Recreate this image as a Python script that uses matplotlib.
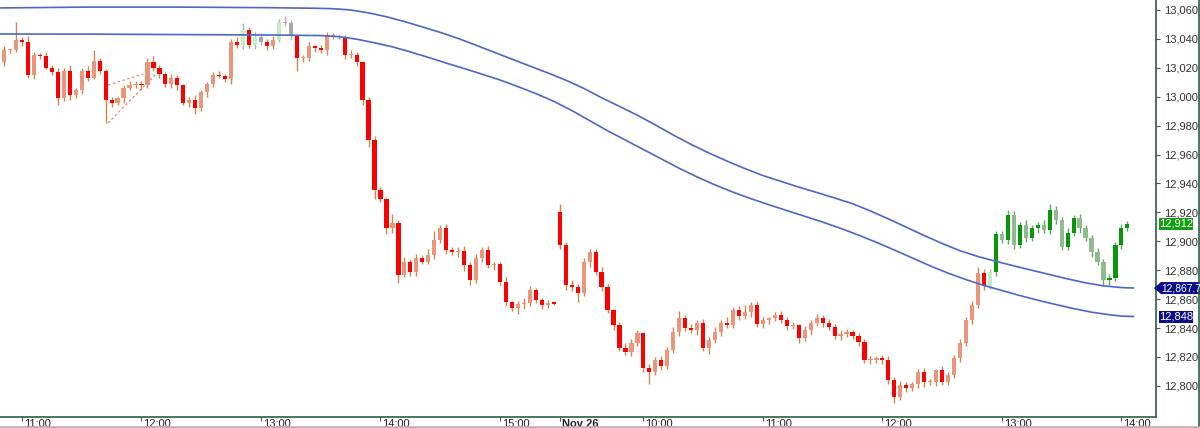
import matplotlib.pyplot as plt
from matplotlib.patches import Polygon, Rectangle

plt.rcParams['font.family'] = ['Liberation Sans', 'DejaVu Sans']

# 3-minute bars, closing prices (day 1 from 10:48, day 2 from bar 94)
closes = [
    13024, 13032, 13032, 13039, 13038, 13015, 13029, 13028, 13020, 13017,
    12999, 13018, 13001, 13005, 13018, 13013, 13025, 13018, 12998, 12996,
    12999, 13006, 13008, 13009, 13008, 13024, 13020, 13016, 13009, 13013,
    13008, 12996, 12998, 12992, 13003, 13009, 13015, 13014, 13012, 13038,
    13036, 13046, 13036, 13041, 13038, 13035, 13039, 13052, 13051, 13042,
    13027, 13027, 13035, 13034, 13032, 13042, 13042, 13041, 13029, 13029,
    13024, 12998, 12970, 12935.5, 12929, 12909, 12913, 12877, 12886, 12879,
    12888.5, 12886, 12890.5, 12901, 12909, 12894, 12892.5, 12893, 12883.5, 12873,
    12888.5, 12894, 12883.5, 12884, 12872, 12858, 12854, 12856.5, 12857.5, 12866,
    12859.5, 12856, 12857.5, 12857, 12897.5, 12870, 12868.5, 12864, 12885.5, 12892.5,
    12879, 12868.5, 12852.5, 12842, 12826, 12823.5, 12829.5, 12836.5, 12812.5, 12809.5,
    12818, 12814, 12825, 12837.5, 12847, 12840, 12838.5, 12843.5, 12826, 12832,
    12837.5, 12843.5, 12842, 12852.5, 12848.5, 12851, 12856, 12843, 12845.5, 12847,
    12849, 12845.5, 12841.5, 12842, 12833, 12838.5, 12843.5, 12847, 12843.5, 12841,
    12834.5, 12836, 12837.5, 12834.5, 12830.5, 12818, 12818, 12819.5, 12818, 12804,
    12792.5, 12800.5, 12798.5, 12801.5, 12809.5, 12802.5, 12803, 12811, 12802.5, 12807.5,
    12819.5, 12829.5, 12845.5, 12856, 12878, 12869, 12879, 12905, 12901, 12918,
    12897.5, 12911.5, 12902.5, 12909, 12911.5, 12908, 12921.5, 12915, 12896, 12906,
    12916, 12909, 12902.5, 12892.5, 12885.5, 12873, 12874.5, 12897.5, 12909, 12912,
]
first_open = 13026
day2_start = 94
day2_open = 12920

up_wick = [
    2, 3, 1, 13, 2, 4, 2, 1, 3, 2,
    3, 2, 4, 1, 2, 3, 7, 2, 1, 2,
    1, 2, 3, 2, 2, 3, 4, 2, 1, 3,
    2, 1, 2, 3, 2, 1, 2, 3, 2, 2,
    3, 5, 2, 4, 3, 2, 3, 2, 4, 2,
    1, 2, 3, 1, 2, 3, 2, 1, 2, 3,
    2, 1, 2, 3, 2, 1, 6, 2, 3, 2,
    3, 2, 4, 6, 2, 3, 2, 3, 4, 2,
    3, 2, 3, 2, 2, 3, 1, 2, 3, 3,
    2, 1, 2, 1, 6, 2, 3, 2, 3, 2,
    2, 3, 2, 1, 2, 4, 3, 2, 1, 3,
    2, 3, 2, 3, 5, 2, 3, 2, 3, 2,
    3, 2, 4, 2, 3, 5, 2, 3, 2, 1,
    2, 3, 2, 2, 1, 3, 2, 3, 2, 3,
    2, 3, 2, 1, 2, 2, 3, 1, 2, 3,
    2, 3, 2, 1, 2, 3, 2, 1, 3, 2,
    2, 3, 2, 3, 4, 3, 2, 2, 2, 4,
    3, 2, 3, 2, 2, 3, 4, 3, 2, 3,
    2, 3, 2, 2, 3, 2, 3, 2, 3, 2,
]
dn_wick = [
    2, 3, 2, 1, 3, 2, 3, 2, 1, 2,
    5, 2, 3, 2, 3, 2, 1, 2, 16, 3,
    2, 3, 1, 2, 3, 2, 2, 3, 2, 3,
    3, 2, 3, 4, 2, 3, 2, 1, 2, 3,
    2, 3, 2, 3, 2, 3, 2, 1, 2, 3,
    9, 3, 2, 3, 2, 3, 2, 1, 3, 2,
    3, 4, 5, 6, 2, 4, 3, 6, 2, 3,
    3, 2, 2, 3, 2, 3, 2, 3, 4, 3,
    2, 3, 2, 3, 2, 3, 2, 4, 3, 2,
    2, 3, 2, 1, 3, 4, 3, 6, 2, 3,
    2, 3, 2, 3, 2, 2, 3, 2, 3, 8,
    2, 3, 2, 2, 3, 2, 2, 3, 2, 4,
    2, 3, 2, 2, 3, 2, 3, 2, 3, 3,
    2, 2, 3, 2, 3, 2, 3, 2, 3, 2,
    2, 3, 2, 2, 3, 2, 3, 2, 3, 3,
    4, 2, 3, 2, 3, 3, 2, 3, 2, 2,
    2, 3, 2, 3, 2, 3, 2, 3, 2, 3,
    3, 2, 3, 2, 3, 2, 3, 3, 2, 2,
    2, 3, 2, 3, 2, 4, 3, 2, 3, 2,
]
# trend colouring: r = down trend, g = up trend, n = neutral
regime = 'r' * 41 + 'n' + 'r' + 'nn' + 'rr' + 'nnn' + 'r' * 116 + 'n' + 'g' * 23

# envelope lines (bar position, value)
upper_x = [0, 15, 30, 45, 53, 56, 59, 62, 65, 68, 71, 74, 77, 80, 83, 86, 89, 92,
           95, 98, 101, 104, 107, 110, 113, 116, 119, 122, 125, 128, 131, 134, 137,
           140, 143, 146, 149, 152, 155, 158, 161, 164, 167, 170, 173, 176, 179,
           182, 185, 188, 190]
upper_band = [13061.4, 13062, 13062, 13061.6, 13061.2, 13060.9, 13060, 13058,
              13055.3, 13052, 13048.3, 13044.5, 13040.3, 13035.6, 13030.8, 13026,
              13021.2, 13016.5, 13011.5, 13005.8, 12999.3, 12993.3, 12987.2, 12980.5,
              12973.5, 12967, 12961, 12955.5, 12950.3, 12945.5, 12941.5, 12937.5,
              12933.8, 12930, 12926, 12921, 12915.5, 12909.8, 12904, 12898.5, 12893.5,
              12889.5, 12886.2, 12883, 12880, 12877, 12874, 12871.3, 12869.2, 12868,
              12867.7]
lower_x = [0, 15, 30, 45, 54, 57, 60, 63, 66, 69, 72, 75, 78, 81, 84, 87, 90, 93,
           96, 99, 102, 105, 108, 111, 114, 117, 120, 123, 126, 129, 132, 135, 138,
           141, 144, 147, 150, 153, 156, 159, 162, 165, 168, 171, 174, 177, 180,
           183, 186, 188, 190]
lower_band = [13043.4, 13043.3, 13043, 13042.7, 13042.3, 13041.6, 13039.8, 13037.3,
              13034.5, 13031, 13027.2, 13023.3, 13019.5, 13015.6, 13011.6, 13007,
              13002.2, 12996.8, 12990.5, 12983.5, 12976.5, 12970, 12963.5, 12957,
              12950.5, 12944.5, 12939, 12934, 12929.5, 12925.3, 12921.3, 12917.3,
              12913.3, 12909, 12904.3, 12899.3, 12894, 12888.5, 12883, 12878, 12873.5,
              12869.5, 12866, 12862.5, 12859.3, 12856.3, 12853.5, 12851, 12849.2,
              12848.3, 12848]

# pink dashed wedge drawn near 12:00
wedge_x = [[18.4, 26.3], [18.4, 24.3]]
wedge_y = [[12981.8, 13015.2], [13008.1, 13015.7]]

tick_pos = [4, 24, 44, 64, 84, 94, 108, 128, 148, 168, 188]
tick_lab = ['11:00', '12:00', '13:00', '14:00', '15:00', 'Nov 26',
            '10:00', '11:00', '12:00', '13:00', '14:00']
price_ticks = [12800, 12820, 12840, 12860, 12880, 12900, 12920, 12940,
               12960, 12980, 13000, 13020, 13040, 13060]

opens = [first_open] + closes[:-1]
opens[day2_start] = day2_open

colors = {
    'r': ('#e9967a', '#ff0000', '#d2864e'),
    'g': ('#0a960a', '#8fbc8f', '#6aa86a'),
    'n': ('#c3ecc3', '#a8a8a8', '#b0b0b0'),
}

fig = plt.figure(figsize=(12, 4.28), dpi=100)
ax = fig.add_axes([0, 11.5 / 428, 1156 / 1200, 416.5 / 428])

for i, c in enumerate(closes):
    o = opens[i]
    up_col, dn_col, wick_col = colors[regime[i]]
    top = max(o, c)
    bot = min(o, c)
    ax.vlines(i, bot - dn_wick[i], top + up_wick[i], color=wick_col, lw=1, zorder=2)
    col = up_col if c >= o else dn_col
    ax.bar(i, max(top - bot, 0.8), bottom=bot, width=0.7, color=col,
           linewidth=0, zorder=3)

for xs, ys in zip(wedge_x, wedge_y):
    ax.plot(xs, ys, color='#f08080', lw=0.9, ls=(0, (2, 2)), zorder=4)

ax.plot(upper_x, upper_band, color='#4a68c8', lw=1.2, zorder=5)
ax.plot(lower_x, lower_band, color='#4a68c8', lw=1.2, zorder=5)

ax.set_xlim(0.32, 193.79)
ax.set_ylim(12778.85, 13066.9)

for s in ['top', 'left']:
    ax.spines[s].set_visible(False)
for s in ['right', 'bottom']:
    ax.spines[s].set_color('#2a5e48')
    ax.spines[s].set_linewidth(1.2)

ax.yaxis.tick_right()
ax.set_yticks(price_ticks)
ax.set_yticklabels([f'{v:,}' for v in price_ticks])
ax.tick_params(axis='y', direction='out', length=3, width=0.8, color='#555555',
               labelsize=8, labelcolor='#333333', pad=2.5)

ax.set_xticks(tick_pos)
ax.set_xticklabels([])
ax.tick_params(axis='x', direction='out', length=3, width=0.8, color='#555555')
for p, lab in zip(tick_pos, tick_lab):
    ax.annotate(lab, xy=(p, 0), xycoords=('data', 'axes fraction'),
                xytext=(1.5, -1.5), textcoords='offset points', ha='left', va='top',
                fontsize=8, color='#222222',
                fontweight='bold' if lab.startswith('Nov') else 'normal')

# price tags on the right axis
fig.canvas.draw()
def ypix(v):
    return ax.transData.transform((0, v))[1]

yc = ypix(closes[-1])
fig.patches.append(Rectangle((1159, yc - 6), 34, 12, transform=None,
                             facecolor='#12a012', edgecolor='none'))
fig.text(1176 / 1200, yc / 428, f'{closes[-1]:,}', ha='center', va='center',
         color='white', fontsize=8)

yl = ypix(lower_band[-1])
fig.patches.append(Rectangle((1159, yl - 6), 34, 12, transform=None,
                             facecolor='#0c0c88', edgecolor='none'))
fig.text(1176 / 1200, yl / 428, f'{lower_band[-1]:,.0f}', ha='center', va='center',
         color='white', fontsize=8)

yu = ypix(upper_band[-1])
fig.patches.append(Polygon([(1154, yu), (1161, yu + 6), (1200, yu + 6),
                            (1200, yu - 6), (1161, yu - 6)], closed=True,
                           transform=None, facecolor='#0c0c88', edgecolor='none'))
fig.text(1161 / 1200, yu / 428, f'{upper_band[-1]:,.1f}', ha='left', va='center',
         color='white', fontsize=7.4)

# outer frame lines
fig.add_artist(plt.Line2D([1199 / 1200, 1199 / 1200], [0, 1], color='#2a5e48', lw=1.2))
fig.add_artist(plt.Line2D([0, 1], [1.5 / 428, 1.5 / 428], color='#c9b0b0', lw=2))

fig.savefig('out.png', dpi=100)
